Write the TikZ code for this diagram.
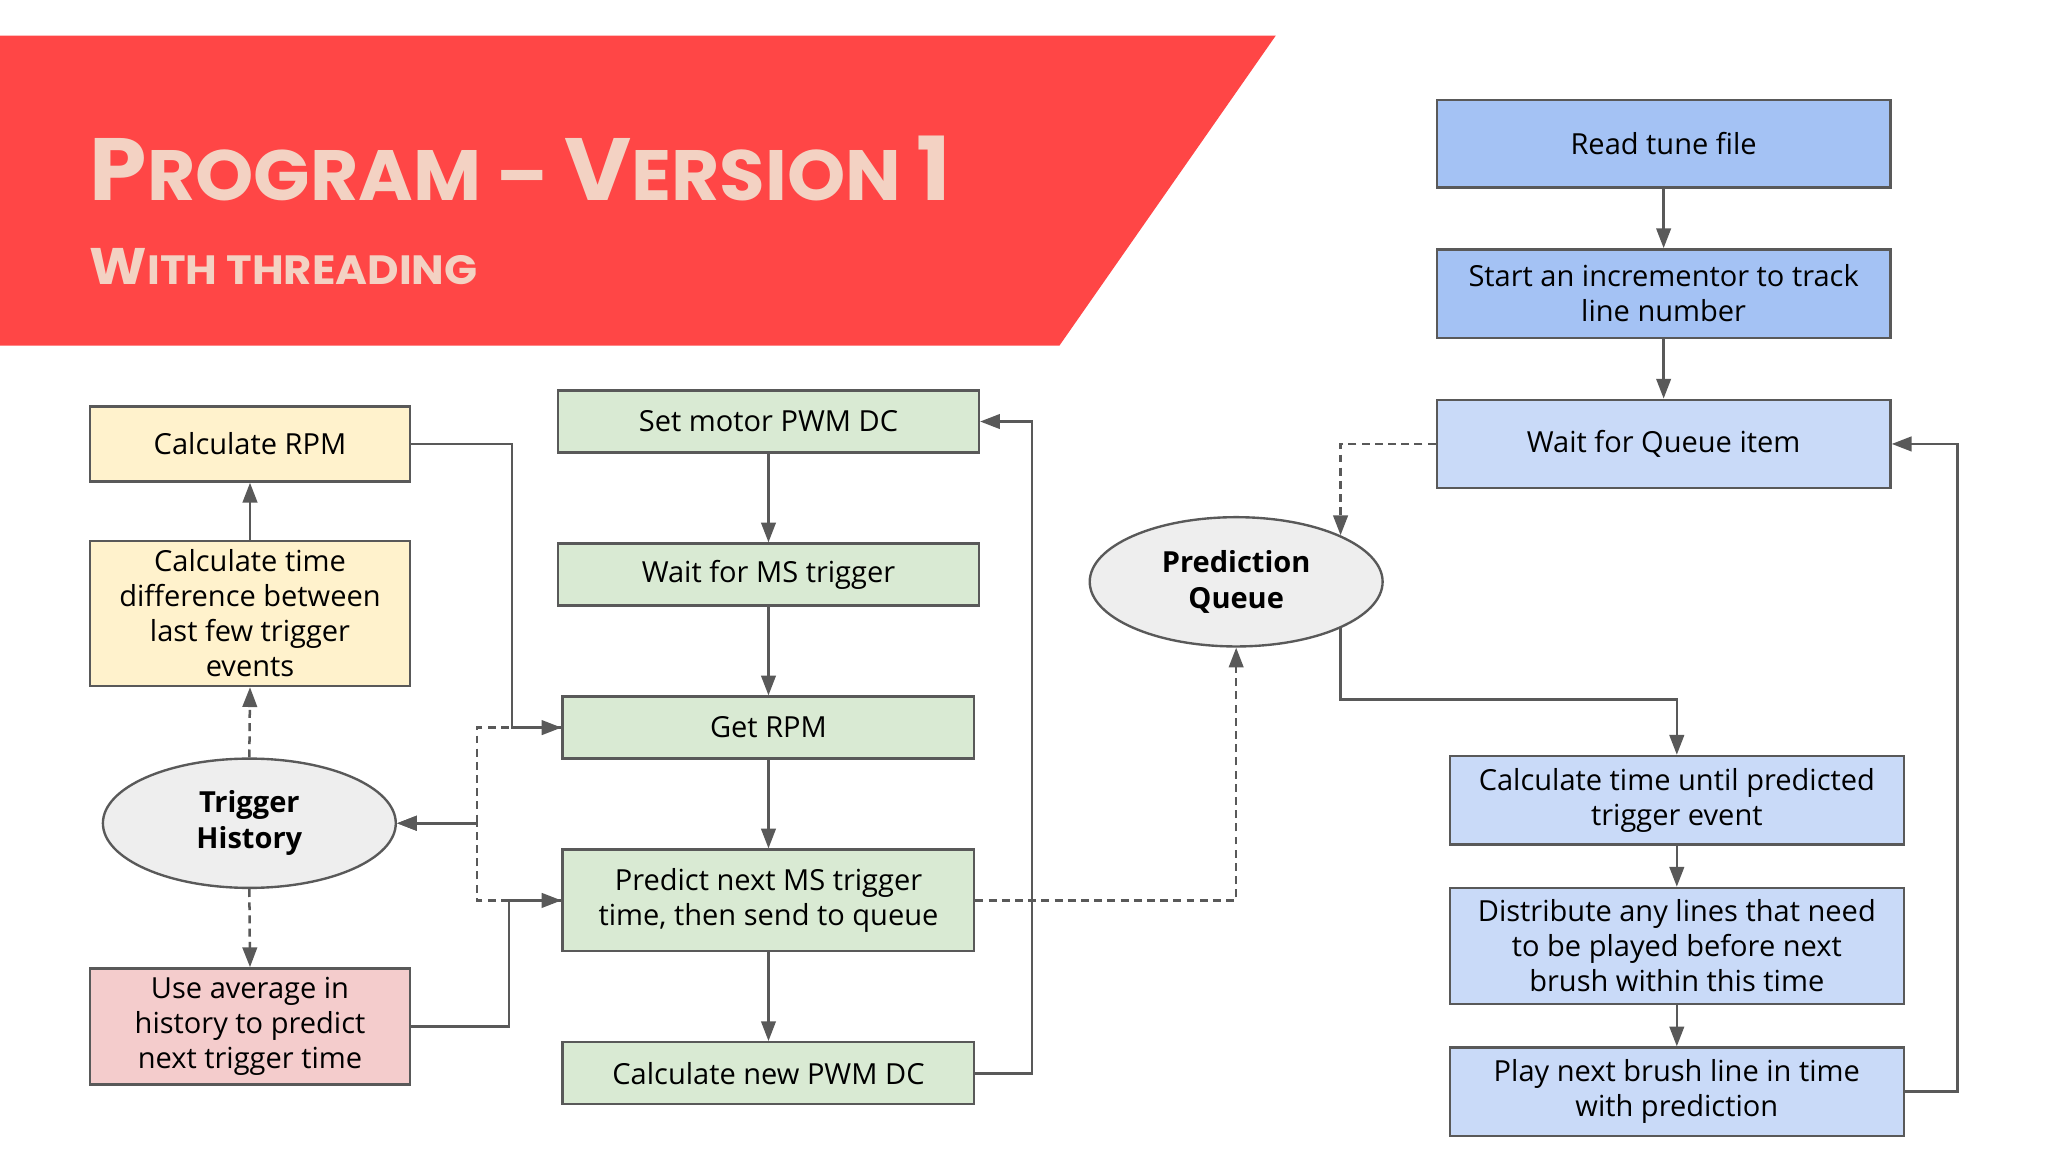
\documentclass[tikz,border=0pt]{standalone}
\usepackage{fontspec}
\setmainfont{Open Sans}
\newfontfamily\titlefont{Poppins}
\usetikzlibrary{arrows.meta,shapes.geometric,calc}
\definecolor{bannerred}{HTML}{FF4646}
\definecolor{titletxt}{HTML}{F3D2C3}
\definecolor{linegray}{HTML}{595959}
\definecolor{yelfill}{HTML}{FFF2CC}
\definecolor{redfill}{HTML}{F4CCCC}
\definecolor{grnfill}{HTML}{D9EAD3}
\definecolor{bluedark}{HTML}{A4C2F4}
\definecolor{bluelight}{HTML}{C9DAF8}
\definecolor{ellfill}{HTML}{EEEEEE}
\newcommand{\bigT}[1]{{\fontsize{67}{67}\selectfont #1}}
\newcommand{\bigS}[1]{{\fontsize{39}{39}\selectfont #1}}
\begin{document}
\begin{tikzpicture}[x=1pt,y=-1pt,
  box/.style={draw=linegray, line width=1.8pt, align=center, inner sep=0pt,
    font=\fontsize{22}{26.5}\selectfont, text=black},
  sz/.style 2 args={minimum width=#1, minimum height=#2},
  oval/.style={ellipse, draw=linegray, line width=1.8pt, fill=ellfill, align=center,
    inner sep=0pt, minimum width=222pt, minimum height=98pt,
    font=\fontsize{22}{27}\selectfont\bfseries},
  conn/.style={draw=linegray, line width=1.9pt, -{Triangle[length=15pt,width=11pt]}},
  dconn/.style={conn, dash pattern=on 6pt off 4pt},
  ttl/.style={anchor=base west, inner sep=0pt, text=titletxt}
]
\useasboundingbox (0,0) rectangle (1566,881.6);

% banner
\fill[bannerred] (0,27) -- (967,27) -- (803,262) -- (0,262) -- cycle;
\node[ttl] (title) at (68,152) {\titlefont\bfseries\fontsize{54}{54}\selectfont\scalebox{1.04}[1]{\bigT{P}ROGRAM – \bigT{V}ERSION \bigT{1}}};
\node[ttl] (subtitle) at (68,216) {\titlefont\bfseries\fontsize{31}{31}\selectfont\scalebox{1.06}[1]{\bigS{W}ITH THREADING}};

% left column
\node[box, fill=yelfill, sz={243pt}{57pt}] (crpm) at (189.5,336.5) {Calculate RPM};
\node[box, fill=yelfill, sz={243pt}{110pt}] (ctd) at (189.5,465) {Calculate time\\difference between\\last few trigger\\events};
\node[oval] (th) at (189,624) {Trigger\\History};
\node[box, fill=redfill, sz={243pt}{88pt}] (ua) at (189.5,778) {Use average in\\history to predict\\next trigger time};

% middle column
\node[box, fill=grnfill, sz={319pt}{47pt}] (smp) at (582.5,319.5) {Set motor PWM DC};
\node[box, fill=grnfill, sz={319pt}{47pt}] (wms) at (582.5,435.5) {Wait for MS trigger};
\node[box, fill=grnfill, sz={312pt}{47pt}] (grpm) at (582.5,551.5) {Get RPM};
\node[box, fill=grnfill, sz={312pt}{77pt}] (pred) at (582.5,682.5) {Predict next MS trigger\\time, then send to queue};
\node[box, fill=grnfill, sz={312pt}{47pt}] (cnp) at (582.5,813.5) {Calculate new PWM DC};

% prediction queue
\node[oval] (pq) at (937,441) {Prediction\\Queue};

% right column
\node[box, fill=bluedark, sz={344pt}{66pt}] (rtf) at (1261,109) {Read tune file};
\node[box, fill=bluedark, sz={344pt}{67pt}] (sinc) at (1261,222.5) {Start an incrementor to track\\line number};
\node[box, fill=bluelight, sz={344pt}{67pt}] (wqi) at (1261,336.5) {Wait for Queue item};
\node[box, fill=bluelight, sz={344pt}{67pt}] (ctu) at (1271,606.5) {Calculate time until predicted\\trigger event};
\node[box, fill=bluelight, sz={344pt}{88pt}] (dist) at (1271,717) {Distribute any lines that need\\to be played before next\\brush within this time};
\node[box, fill=bluelight, sz={344pt}{67pt}] (play) at (1271,827.5) {Play next brush line in time\\with prediction};

% connectors: right
\draw[conn] (rtf.south) -- (sinc.north);
\draw[conn] (sinc.south) -- (wqi.north);
\draw[dconn] (wqi.west) -| (pq.north east);
\draw[conn] (pq.south east) |- ([yshift=42pt]ctu.north) -- (ctu.north);
\draw[conn] (ctu.south) -- (dist.north);
\draw[conn] (dist.south) -- (play.north);
\draw[conn] (play.east) -- ++(40,0) |- (wqi.east);

% connectors: middle
\draw[conn] (smp.south) -- (wms.north);
\draw[conn] (wms.south) -- (grpm.north);
\draw[conn] (grpm.south) -- (pred.north);
\draw[conn] (pred.south) -- (cnp.north);
\draw[conn] (cnp.east) -- ++(43,0) |- (smp.east);
\draw[dconn] (pred.east) -| (pq.south);

% connectors: left
\draw[conn] (ctd.north) -- (crpm.south);
\draw[dconn] (th.north) -- (ctd.south);
\draw[dconn] (th.south) -- (ua.north);
\draw[dconn] (grpm.west) -- ++(-64,0) |- (th.east);
\draw[dconn] (pred.west) -- ++(-64,0) |- (th.east);
\draw[conn] (crpm.east) -- ++(76,0) |- (grpm.west);
\draw[conn] (ua.east) -- ++(74,0) |- (pred.west);
\end{tikzpicture}
\end{document}
